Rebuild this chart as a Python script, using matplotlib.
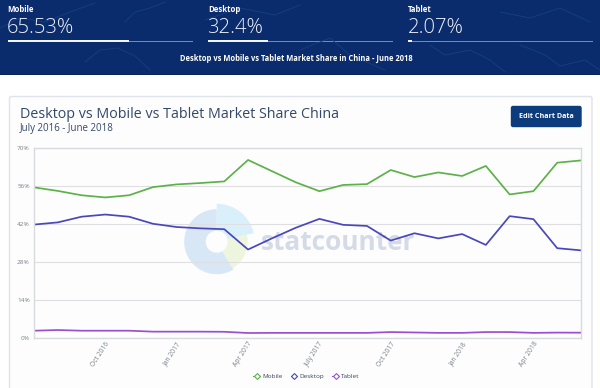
import matplotlib
matplotlib.use("Agg")
import matplotlib.pyplot as plt
from matplotlib.patches import Rectangle, Wedge, Circle, FancyBboxPatch
from matplotlib.lines import Line2D
from matplotlib.transforms import ScaledTranslation

plt.rcParams['font.family'] = ['Open Sans', 'DejaVu Sans']

months = ["Jul 2016","Aug 2016","Sep 2016","Oct 2016","Nov 2016","Dec 2016","Jan 2017","Feb 2017",
          "Mar 2017","Apr 2017","May 2017","Jun 2017","July 2017","Aug 2017","Sep 2017","Oct 2017",
          "Nov 2017","Dec 2017","Jan 2018","Feb 2018","Mar 2018","Apr 2018","May 2018","Jun 2018"]
mobile = [55.6,54.3,52.7,51.9,52.7,55.7,56.7,57.2,57.8,65.7,61.6,57.5,54.2,56.5,56.8,62.0,59.4,61.1,59.8,63.5,53.0,54.2,64.7,65.53]
desktop = [41.9,42.7,44.8,45.6,44.8,42.2,41.0,40.5,40.2,32.7,36.8,40.7,44.0,41.8,41.4,36.0,38.7,36.8,38.4,34.4,45.0,43.9,33.2,32.4]
tablet = [2.8,3.05,2.8,2.8,2.8,2.45,2.45,2.45,2.4,1.95,2.0,2.0,2.0,2.0,2.0,2.3,2.15,2.0,2.0,2.3,2.3,2.0,2.1,2.07]
y_ticks = [0,14,28,42,56,70]
tick_idx = [3,6,9,12,15,18,21]
stats = [("Mobile","65.53%",7.5,192.5,128.5),("Desktop","32.4%",208,393,268),("Tablet","2.07%",408,593,412)]
map_lines = [
    [(0,28),(20,18),(45,22),(70,12),(95,3)],
    [(125,22),(135,12),(150,8),(165,2)],
    [(85,62),(100,50),(118,48),(135,56),(150,70)],
    [(205,20),(240,8),(275,15),(300,5)],
    [(300,50),(330,38),(350,55),(385,70)],
    [(430,45),(445,55),(470,50),(490,60),(505,72)],
    [(520,45),(545,55),(560,66),(585,60),(600,70)],
    [(500,12),(530,18),(560,8),(590,22)],
]

NAVY = "#0b2c6c"; GREEN = "#5cb248"; BLUE = "#4a47bd"; PURPLE = "#9a4fd0"; TXT = "#33486a"

fig = plt.figure(figsize=(6,3.88), dpi=100, facecolor="#ffffff")
bg = fig.add_axes([0,0,1,1]); bg.set_xlim(0,600); bg.set_ylim(388,0); bg.axis("off")

# header
bg.add_patch(Rectangle((0,0),600,75,fc=NAVY,ec="none"))
bg.add_patch(Rectangle((0,74),600,1.2,fc="#0a2350",ec="none"))
for pts in map_lines:
    bg.plot([p[0] for p in pts],[p[1] for p in pts],color="#173f80",lw=0.6)
for label,val,x0,x1,xf in stats:
    bg.text(x0,10,label,color="white",fontsize=5.6,fontweight="bold",va="center",ha="left")
    bg.text(x0-0.5,28,val,color="#eef2f8",fontsize=14.6,fontweight="light",va="center",ha="left")
    bg.add_patch(Rectangle((x0,40.5),x1-x0,1,fc="#6f8dbb",ec="none"))
    bg.add_patch(Rectangle((x0,40.2),xf-x0,1.5,fc="#f2f5fa",ec="none"))
bg.text(296,58,"Desktop vs Mobile vs Tablet Market Share in China - June 2018",color="white",
        fontsize=5.45,fontweight="bold",ha="center",va="center")

# card
bg.add_patch(FancyBboxPatch((9.5,96.5),582.5,300,boxstyle="round,pad=0,rounding_size=2",fc="#fdfdfe",ec="#dfe3ea",lw=1))
bg.text(20,114.5,"Desktop vs Mobile vs Tablet Market Share China",color=TXT,fontsize=10.3,ha="left",va="center")
bg.text(20,129,"July 2016 - June 2018",color=TXT,fontsize=7,ha="left",va="center")
bg.add_patch(FancyBboxPatch((511.5,106.5),69.5,20,boxstyle="round,pad=0,rounding_size=1.5",fc="#0d3c7c",ec="#0d3c7c",lw=1))
bg.text(546.5,116.5,"Edit Chart Data",color="white",fontsize=5.2,fontweight="bold",ha="center",va="center")

# watermark (y axis of bg is inverted, so angles run clockwise on screen)
cx, cy = 216.7, 241.7
bg.add_patch(Wedge((cx,cy),32.5,59,270,fc="#d8e7f6",ec="none"))
bg.add_patch(Wedge((cx,cy),38,270,347,fc="#d9f0fb",ec="none"))
bg.add_patch(Wedge((cx,cy),31,347,419,fc="#eef5dd",ec="none"))
bg.add_patch(Circle((cx,cy),11,fc="#fdfdfe",ec="none"))
bg.text(261,243,"statcounter",color="#d5dbe6",fontsize=18.9,fontweight="bold",ha="left",va="center")

# chart
L,R,T,B = 34,581,148.3,338.3
ax = fig.add_axes([L/600,1-B/388,(R-L)/600,(B-T)/388])
ax.patch.set_alpha(0)
x = list(range(len(months)))
ax.plot(x,mobile,color=GREEN,lw=1.25,label="Mobile")
ax.plot(x,desktop,color=BLUE,lw=1.25,label="Desktop")
ax.plot(x,tablet,color=PURPLE,lw=1.25,label="Tablet")
ax.set_xlim(0,23); ax.set_ylim(0,70)
ax.set_yticks(y_ticks); ax.set_yticklabels([f"{v}%" for v in y_ticks])
ax.set_xticks(tick_idx); ax.set_xticklabels([months[i] for i in tick_idx],rotation=57,ha="right",rotation_mode="anchor",va="center")
ax.tick_params(axis="both",length=0,labelsize=4.6,labelcolor="#7a8087")
ax.tick_params(axis="x",labelsize=4.9,pad=3); ax.tick_params(axis="y",pad=3)
shift = ScaledTranslation(3/100,0,fig.dpi_scale_trans)
for lab in ax.get_xticklabels():
    lab.set_transform(lab.get_transform()+shift)
ax.grid(axis="y",color="#dfdfe2",lw=0.8); ax.set_axisbelow(True)
for s in ax.spines.values():
    s.set_color("#d8dadd"); s.set_linewidth(1)

handles = [Line2D([],[],color=c,marker="D",ms=3,mfc="white",mew=0.8,lw=0.8,label=n)
           for c,n in [(GREEN,"Mobile"),(BLUE,"Desktop"),(PURPLE,"Tablet")]]
fig.legend(handles=handles,loc="center",bbox_to_anchor=(306.5/600,1-376/388),ncol=3,frameon=False,
           fontsize=4.6,handlelength=1.0,handletextpad=0.35,columnspacing=1.3,labelcolor="#3a4252")

fig.savefig("out.png",dpi=100,facecolor=fig.get_facecolor())
